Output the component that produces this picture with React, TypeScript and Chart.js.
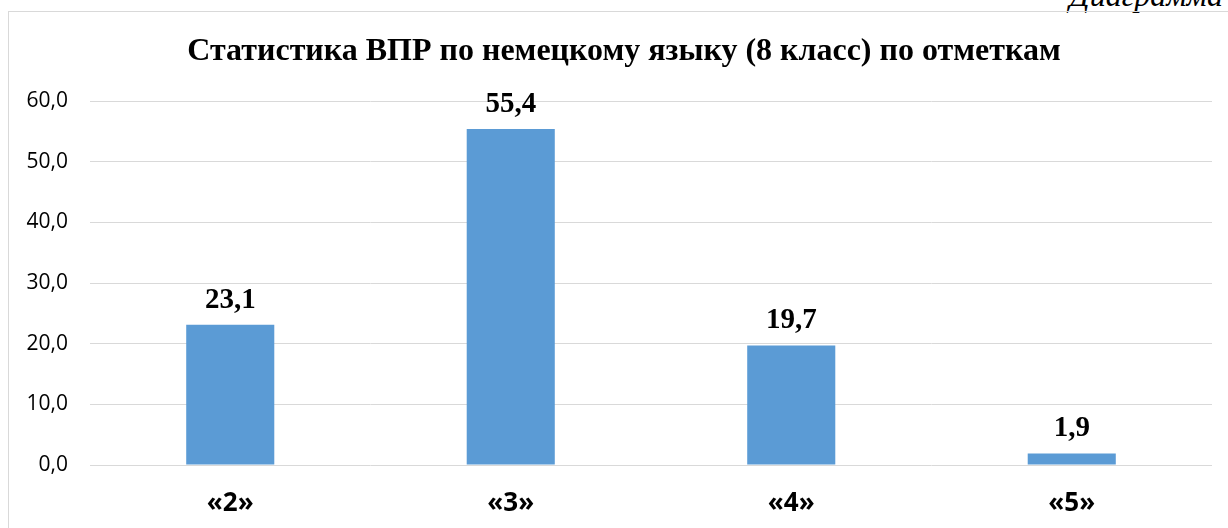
import React, { useEffect, useRef } from "react";
import { Chart, registerables } from "chart.js";

Chart.register(...registerables);

const categories: string[] = ["«2»", "«3»", "«4»", "«5»"];
const values: number[] = [23.1, 55.4, 19.7, 1.9];
const yTicks: number[] = [0, 10, 20, 30, 40, 50, 60];
const titleText = "Статистика ВПР по немецкому языку (8 класс) по отметкам";
const captionText = "Диаграмма";

const fmt = (v: number) => v.toFixed(1).replace(".", ",");

const dataLabelPlugin = {
  id: "dataLabels",
  afterDatasetsDraw(chart: any) {
    const ctx = chart.ctx;
    const meta = chart.getDatasetMeta(0);
    ctx.save();
    ctx.font = "bold 29px 'Liberation Serif', 'Times New Roman', serif";
    ctx.fillStyle = "#000000";
    ctx.textAlign = "center";
    ctx.textBaseline = "alphabetic";
    meta.data.forEach((bar: any, i: number) => {
      ctx.fillText(fmt(values[i]), bar.x, bar.y - 17);
    });
    ctx.restore();
  },
};

const titlePlugin = {
  id: "centeredTitle",
  afterDraw(chart: any) {
    const ctx = chart.ctx;
    ctx.save();
    ctx.font = "bold 32px 'Liberation Serif', 'Times New Roman', serif";
    ctx.fillStyle = "#000000";
    ctx.textAlign = "center";
    ctx.textBaseline = "middle";
    ctx.fillText(titleText, chart.width / 2, 40);
    ctx.restore();
  },
};

export default function App() {
  const ref = useRef<HTMLCanvasElement | null>(null);
  useEffect(() => {
    if (!ref.current) return;
    const chart = new Chart(ref.current, {
      type: "bar",
      data: {
        labels: categories,
        datasets: [
          {
            data: values,
            backgroundColor: "#5b9bd5",
            borderWidth: 0,
            barPercentage: 0.314,
            categoryPercentage: 1,
          },
        ],
      },
      options: {
        animation: false,
        responsive: false,
        maintainAspectRatio: false,
        layout: { padding: { left: 0, right: 27, top: 89, bottom: 0 } },
        plugins: {
          legend: { display: false },
          tooltip: { enabled: false },
          title: { display: false },
        },
        scales: {
          x: {
            grid: { display: false, drawTicks: false },
            border: { display: false },
            ticks: {
              color: "#000000",
              padding: 23,
              font: { family: "'Open Sans', 'Liberation Sans', sans-serif", size: 26, weight: "bold" },
            },
            afterFit: (s: any) => {
              s.height = 63;
            },
          },
          y: {
            min: 0,
            max: 60,
            afterBuildTicks: (s: any) => {
              s.ticks = yTicks.map((v) => ({ value: v }));
            },
            grid: { color: "#d9d9d9", lineWidth: 1, drawTicks: false },
            border: { display: false },
            ticks: {
              color: "#000000",
              padding: 22,
              font: { family: "'Open Sans', 'Liberation Sans', sans-serif", size: 21 },
              callback: (v: any) => fmt(Number(v)),
            },
            afterFit: (s: any) => {
              s.width = 81;
            },
          },
        },
      },
      plugins: [dataLabelPlugin, titlePlugin],
    });
    return () => chart.destroy();
  }, []);

  return (
    <div style={{ position: "absolute", left: 0, top: 0, width: 1228, height: 528, overflow: "hidden", background: "#ffffff" }}>
      <span
        style={{
          position: "absolute",
          right: 5,
          top: -21,
          fontFamily: "'Liberation Serif', 'Times New Roman', serif",
          fontStyle: "italic",
          fontSize: 32,
          lineHeight: "32px",
          color: "#000000",
          whiteSpace: "nowrap",
        }}
      >
        {captionText}
      </span>
      <div
        style={{
          position: "absolute",
          left: 8,
          top: 11,
          width: 1400,
          height: 700,
          border: "1px solid #d9d9d9",
          boxSizing: "border-box",
        }}
      />
      <canvas ref={ref} width={1230} height={516} style={{ position: "absolute", left: 9, top: 12, width: 1230, height: 516 }} />
    </div>
  );
}
